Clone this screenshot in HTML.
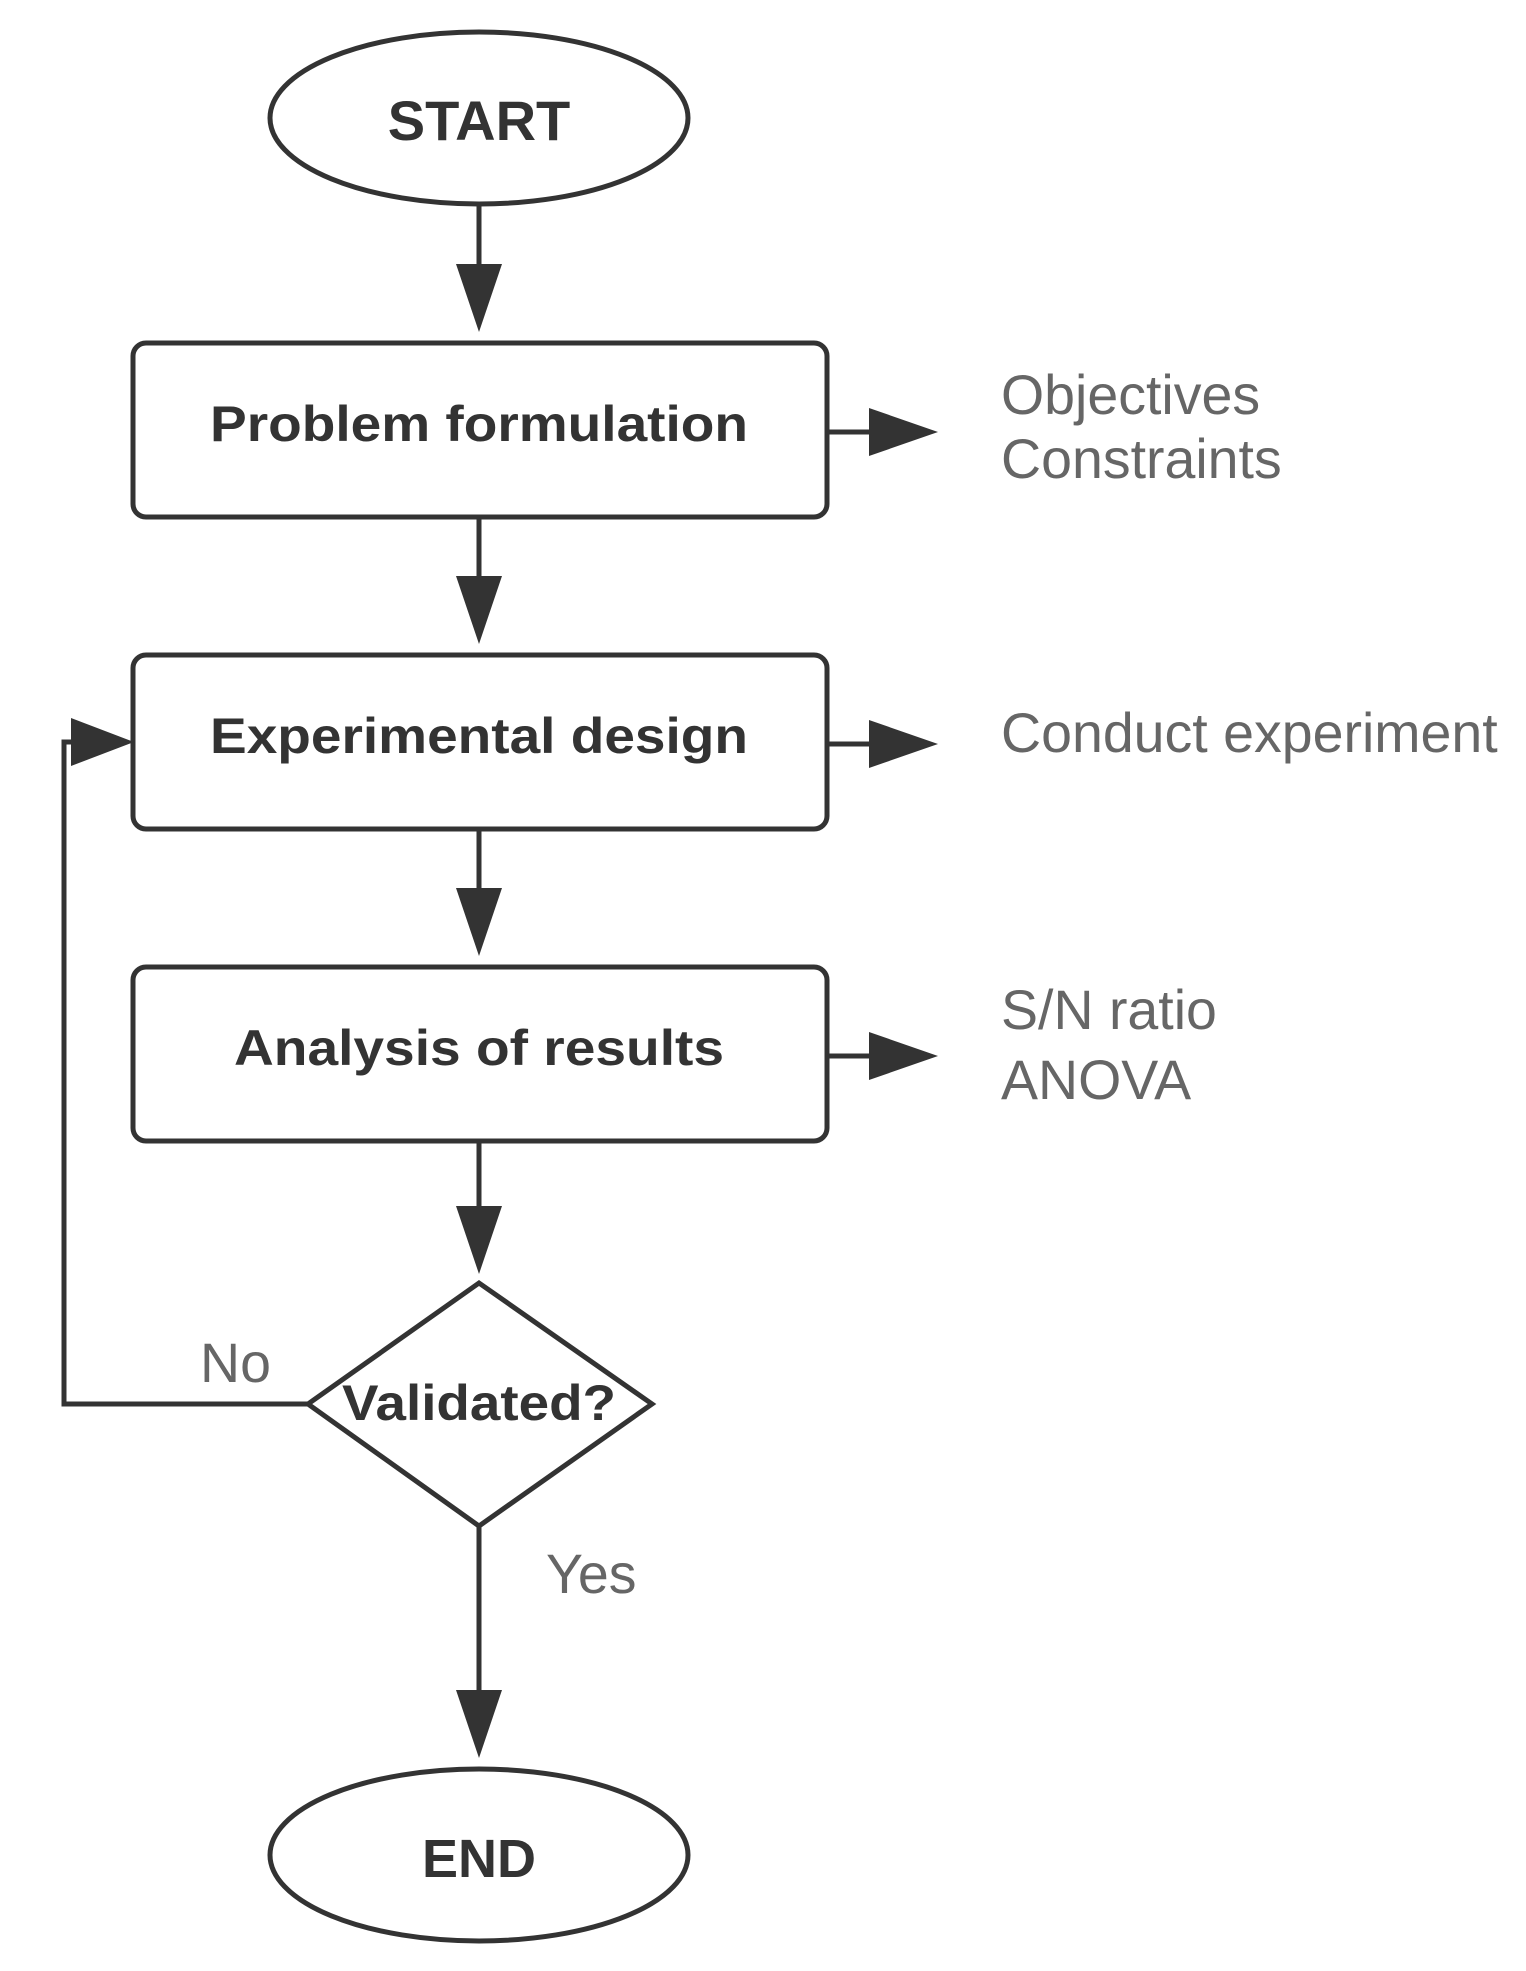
<!DOCTYPE html>
<html><head><style>html,body{margin:0;padding:0;background:#fff}svg{display:block}</style></head>
<body>
<svg width="1526" height="1971" viewBox="0 0 1526 1971" xmlns="http://www.w3.org/2000/svg">
<g transform="translate(3,4)">
<g fill="none" stroke="#333" stroke-width="5">
<ellipse cx="476" cy="114" rx="209" ry="86" fill="#fff"/>
<rect x="130" y="339" width="694" height="174" rx="13" fill="#fff"/>
<rect x="130" y="651" width="694" height="174" rx="13" fill="#fff"/>
<rect x="130" y="963" width="694" height="174" rx="13" fill="#fff"/>
<polygon points="305,1400 476,1279 649,1400 476,1522" fill="#fff"/>
<ellipse cx="476" cy="1851" rx="209" ry="86" fill="#fff"/>
<line x1="476" y1="200" x2="476" y2="270"/>
<line x1="476" y1="513" x2="476" y2="582"/>
<line x1="476" y1="825" x2="476" y2="894"/>
<line x1="476" y1="1137" x2="476" y2="1210"/>
<line x1="476" y1="1522" x2="476" y2="1696"/>
<line x1="824" y1="428" x2="870" y2="428"/>
<line x1="824" y1="740" x2="870" y2="740"/>
<line x1="824" y1="1052" x2="870" y2="1052"/>
<polyline points="305,1400 61,1400 61,738 75,738"/>
</g>
<g fill="#333">
<polygon points="453,260 499,260 476,328"/>
<polygon points="453,572 499,572 476,640"/>
<polygon points="453,884 499,884 476,952"/>
<polygon points="453,1202 499,1202 476,1270"/>
<polygon points="453,1686 499,1686 476,1754"/>
<polygon points="866,404 866,452 935,428"/>
<polygon points="866,716 866,764 935,740"/>
<polygon points="866,1028 866,1076 935,1052"/>
<polygon points="68,714 68,762 131,738"/>
</g>
<g font-family="Liberation Sans, sans-serif" font-weight="bold" fill="#333" text-anchor="middle" font-size="50">
<text x="476" y="136" font-size="56">START</text>
<text x="476" y="437" textLength="538" lengthAdjust="spacingAndGlyphs">Problem formulation</text>
<text x="476" y="749" textLength="538" lengthAdjust="spacingAndGlyphs">Experimental design</text>
<text x="476" y="1061" textLength="490" lengthAdjust="spacingAndGlyphs">Analysis of results</text>
<text x="476" y="1416" textLength="274" lengthAdjust="spacingAndGlyphs">Validated?</text>
<text x="476" y="1873" font-size="54">END</text>
</g>
<g font-family="Liberation Sans, sans-serif" fill="#666" font-size="55.5">
<text x="998" y="410">Objectives</text>
<text x="998" y="474">Constraints</text>
<text x="998" y="748">Conduct experiment</text>
<text x="998" y="1025">S/N ratio</text>
<text x="998" y="1095">ANOVA</text>
<text x="197" y="1378">No</text>
<text x="543" y="1589">Yes</text>
</g>
</g>
</svg>
</body></html>
